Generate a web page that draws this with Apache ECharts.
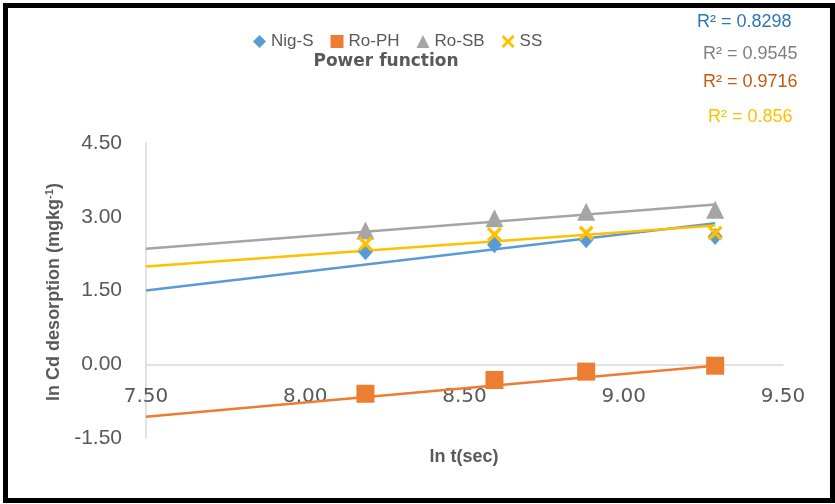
<!DOCTYPE html>
<html><head><meta charset="utf-8">
<script src="https://cdn.jsdelivr.net/npm/echarts@6/dist/echarts.min.js"></script>
<style>html,body{margin:0;padding:0;background:#fff}#c{width:835px;height:504px}</style>
</head><body><div id="c"></div>
<script>
// ---- data ----
const seriesNames = ['Nig-S', 'Ro-PH', 'Ro-SB', 'SS'];
const lnT = [8.189, 8.594, 8.882, 9.287];
const nigS = [2.29, 2.43, 2.53, 2.60];
const roPH = [-0.60, -0.32, -0.15, -0.03];
const roSB = [2.72, 2.97, 3.10, 3.14];
const ss = [2.45, 2.64, 2.67, 2.67];
// trendline endpoints (power fit, as drawn)
const trendX = [7.5, 9.287];
const nigSTrend = [1.50, 2.87];
const roPHTrend = [-1.07, -0.03];
const roSBTrend = [2.35, 3.25];
const ssTrend = [1.99, 2.82];
const r2Labels = ['R² = 0.8298', 'R² = 0.9545', 'R² = 0.9716', 'R² = 0.856'];
const xTicks = [7.5, 8.0, 8.5, 9.0, 9.5];
const yTicks = [-1.5, 0, 1.5, 3.0, 4.5];

const colors = ['#5B9BD5', '#ED7D31', '#A5A5A5', '#FFC000'];
const r2Colors = ['#2E75B6', '#7F7F7F', '#C55A11', '#FFC000'];
const xPath = 'path://M0,1.6 L1.6,0 L5,3.4 L8.4,0 L10,1.6 L6.6,5 L10,8.4 L8.4,10 L5,6.6 L1.6,10 L0,8.4 L3.4,5 Z';
const symbols = ['diamond', 'rect', 'triangle', xPath];
const symbolSizes = [[15, 17], 18, 18, 15];
const values = [nigS, roPH, roSB, ss];
const trends = [nigSTrend, roPHTrend, roSBTrend, ssTrend];

const pairs = (xs, ys) => xs.map((x, i) => [x, ys[i]]);

const series = [];
trends.forEach((t, i) => {
  series.push({
    type: 'line', name: seriesNames[i] + ' trend', data: pairs(trendX, t),
    showSymbol: false, symbol: 'none', silent: true,
    lineStyle: { color: colors[i], width: 2.5 }, z: 2
  });
});
values.forEach((v, i) => {
  series.push({
    type: 'scatter', name: seriesNames[i], data: pairs(lnT, v),
    symbol: symbols[i], symbolSize: symbolSizes[i],
    itemStyle: { color: colors[i], opacity: 1 }, z: 3 + (i === 3 ? 2 : 0)
  });
});

const r2Y = [23, 55, 83, 118];
const r2X = [697, 703, 703, 708];
const graphics = r2Labels.map((t, i) => ({
  type: 'text', left: r2X[i], top: r2Y[i] - 10,
  style: { text: t, fill: r2Colors[i], font: '18px "Liberation Sans"' }
}));
graphics.push({
  type: 'text', x: 386, y: 62,
  style: { text: 'Power function', fill: '#595959', font: 'bold 17px "DejaVu Sans"', align: 'center', verticalAlign: 'middle' }
});
graphics.push({
  type: 'text', x: 464, y: 457,
  style: { text: 'ln t(sec)', fill: '#595959', font: 'bold 18px "Liberation Sans"', align: 'center', verticalAlign: 'middle' }
});
graphics.push({
  type: 'text', x: 54, y: 292, rotation: Math.PI / 2,
  style: {
    text: '{n|ln Cd desorption (mgkg}{s|-1}{n|)}', align: 'center', verticalAlign: 'middle',
    rich: {
      n: { fill: '#595959', font: 'bold 18px "Liberation Sans"' },
      s: { fill: '#595959', font: 'bold 11px "Liberation Sans"', verticalAlign: 'top', padding: [0, 0, 8, 0] }
    }
  }
});
graphics.push({
  type: 'rect', shape: { x: 5.5, y: 5.5, width: 827, height: 495 },
  style: { fill: 'none', stroke: '#000', lineWidth: 5 }, z: 100
});

const chart = echarts.init(document.getElementById('c'), null, { renderer: 'canvas' });
chart.setOption({
  animation: false,
  backgroundColor: '#fff',
  textStyle: { fontFamily: '"Liberation Sans"' },
  grid: { left: 146, right: 52, top: 143, bottom: 66, containLabel: false, outerBoundsMode: 'none' },
  legend: {
    data: seriesNames, left: 248, top: 28, itemWidth: 13, itemHeight: 13, itemGap: 17,
    textStyle: { color: '#595959', fontSize: 17, fontFamily: '"Liberation Sans"' }
  },
  xAxis: {
    type: 'value', min: xTicks[0], max: xTicks[xTicks.length - 1], interval: 0.5,
    axisLine: { show: true, onZero: true, lineStyle: { color: '#D9D9D9', width: 1.5 } },
    axisTick: { show: false }, splitLine: { show: false },
    axisLabel: { color: '#595959', fontSize: 20, fontFamily: '"DejaVu Sans"', margin: -51, formatter: v => v.toFixed(2) }
  },
  yAxis: {
    type: 'value', min: yTicks[0], max: yTicks[yTicks.length - 1], interval: 1.5,
    axisLine: { show: true, onZero: false, lineStyle: { color: '#D9D9D9', width: 1.5 } },
    axisTick: { show: false }, splitLine: { show: false },
    axisLabel: { color: '#595959', fontSize: 21, fontFamily: '"Liberation Sans"', margin: 24, formatter: v => v.toFixed(2) }
  },
  series: series,
  graphic: graphics
});
</script></body></html>
